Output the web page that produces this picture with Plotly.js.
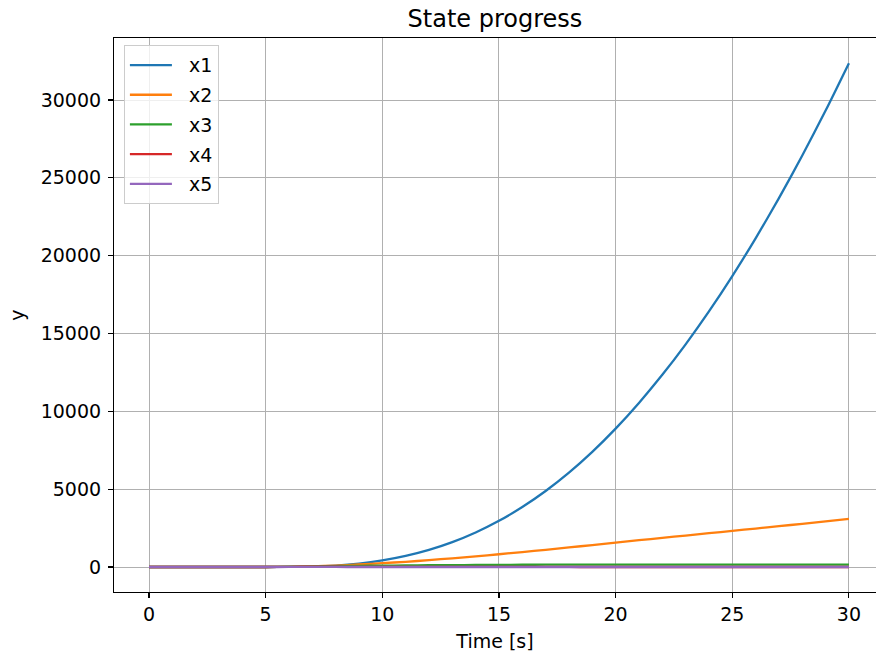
<!DOCTYPE html>
<html>
<head>
<meta charset="utf-8">
<script src="https://cdn.plot.ly/plotly-3.0.1.min.js"></script>
<style>html,body{margin:0;padding:0;overflow:hidden;background:#fff}</style>
</head>
<body>
<div id="chart" style="width:877px;height:656px"></div>
<script>
// Time samples [s]
const time = [0,1,2,3,4,5,6,7,8,9,10,11,12,13,14,15,16,17,18,19,20,21,22,23,24,25,26,27,28,29,30];
// State values
const x1 = [0,0,0,0,0,0,5,28,90,215,420,710,1095,1595,2215,2965,3855,4885,6065,7400,8890,10540,12345,14305,16420,18690,21115,23695,26430,29320,32365];
const x2 = [0,0,0,0,0,0,12,40,90,165,245,335,440,560,685,820,960,1105,1255,1410,1570,1720,1870,2020,2170,2320,2470,2620,2775,2930,3085];
const x3 = [0,0,0,0,0,0,18,38,60,75,88,100,112,122,130,138,144,148,151,153,153,153,153,153,153,153,153,153,154,154,154];
const x4 = [0,0,0,0,0,0,10,18,16,12,10,9,8,7,6,5,4,3,2,1,0,0,0,0,0,0,0,0,0,0,0];
const x5 = [0,0,0,0,0,0,2,3,2,1,1,1,1,0,0,0,0,0,0,0,0,0,0,0,0,0,0,0,0,0,0];

const names = ['x1','x2','x3','x4','x5'];
const series = [x1,x2,x3,x4,x5];
const colors = ['#1f77b4','#ff7f0e','#2ca02c','#d62728','#9467bd'];

const traces = series.map((s,i)=>({
  x: time, y: s, name: '\u00A0\u00A0' + names[i], type:'scatter', mode:'lines',
  legendgroup: 'g'+i,
  line: {color: colors[i], width: 2.3, shape: 'spline', smoothing: 0.6}
}));

const font = {family: 'DejaVu Sans, sans-serif', size: 19, color: '#000'};
const layout = {
  width: 877, height: 656,
  paper_bgcolor: '#fff', plot_bgcolor: '#fff',
  font: font,
  margin: {l: 114, r: 1, t: 38, b: 64},
  title: {text: 'State progress', font: {family: 'DejaVu Sans, sans-serif', size: 24, color:'#000'},
          x: 0.5, xref: 'paper', xanchor: 'center', y: 1 - 19/656, yref: 'container', yanchor: 'middle'},
  xaxis: {
    range: [-1.5, 31.16], tickvals: [0,5,10,15,20,25,30], ticktext: ['0','5','10','15','20','25','30'],
    showgrid: true, gridcolor: '#b0b0b0', gridwidth: 1, zeroline: false,
    showline: true, linecolor: '#000', linewidth: 1.1, mirror: true,
    ticks: 'outside', ticklen: 5, tickwidth: 1.1, tickcolor: '#000',
    title: {text: 'Time [s]', font: font, standoff: 10}
  },
  yaxis: {
    range: [-1606, 33983], tickvals: [0,5000,10000,15000,20000,25000,30000],
    ticktext: ['0','5000','10000','15000','20000','25000','30000'],
    showgrid: true, gridcolor: '#b0b0b0', gridwidth: 1, zeroline: false,
    showline: true, linecolor: '#000', linewidth: 1.1, mirror: false,
    ticks: 'outside', ticklen: 5, tickwidth: 1.1, tickcolor: '#000',
    ticklabelstandoff: 3,
    title: {text: 'y', font: font, standoff: 11}
  },
  legend: {
    x: 0.013, y: 0.987, xanchor: 'left', yanchor: 'top',
    bgcolor: 'rgba(255,255,255,0.8)', bordercolor: '#cccccc', borderwidth: 1,
    font: font, traceorder: 'grouped', tracegroupgap: 2, itemwidth: 42
  },
  showlegend: true
};

Plotly.newPlot('chart', traces, layout, {displayModeBar: false, staticPlot: true});
</script>
</body>
</html>
